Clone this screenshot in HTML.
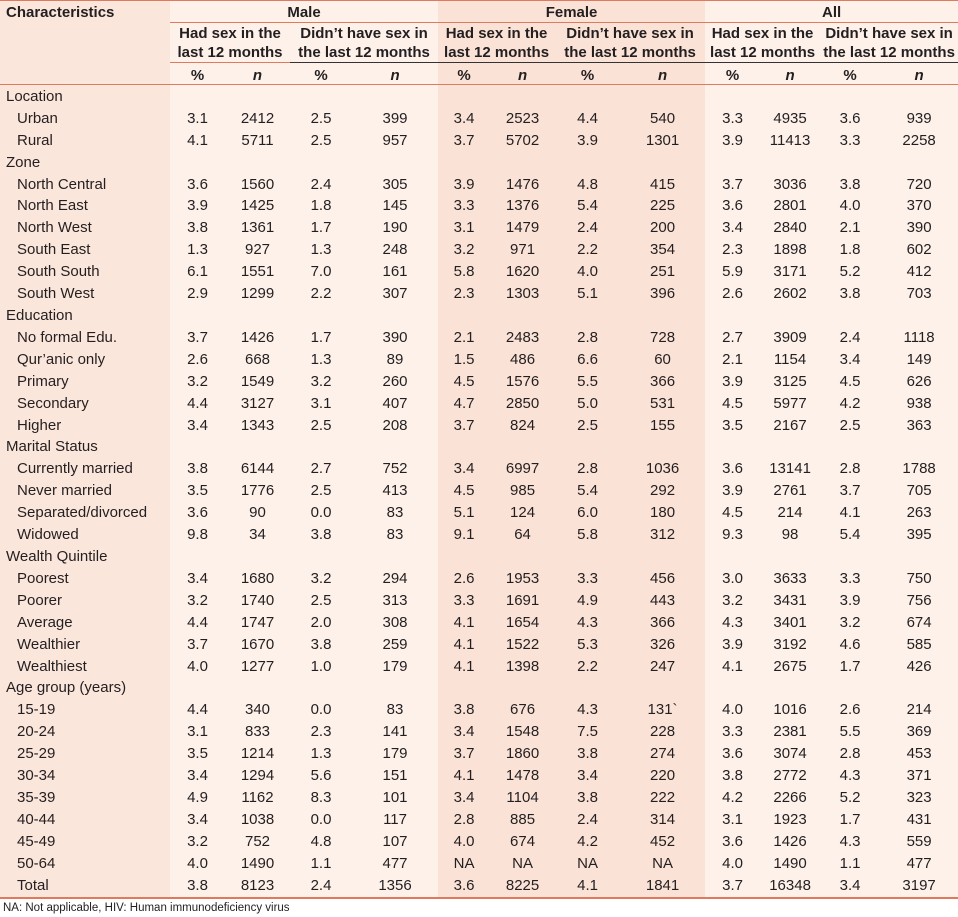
<!DOCTYPE html>
<html><head><meta charset="utf-8"><style>
html,body{margin:0;padding:0;background:#fff;}
body{width:958px;height:917px;position:relative;overflow:hidden;font-family:"Liberation Sans",sans-serif;color:#231f20;}
.bg{position:absolute;top:0;height:897px;}
table{position:absolute;left:0;top:2px;border-collapse:collapse;width:958px;table-layout:fixed;font-size:15px;}
td{padding:0;height:21.92px;text-align:center;white-space:nowrap;line-height:16px;}
td.c{text-align:left;padding-left:6px;}
td.s{text-align:left;padding-left:17px;}
th{padding:0;font-weight:bold;font-size:15px;line-height:19px;white-space:nowrap;}
.line{position:absolute;height:1px;}
.foot{position:absolute;left:3px;top:902px;font-size:11.5px;}
</style></head><body>
<div class="bg" style="left:0;width:170px;background:#fbe6dc"></div>
<div class="bg" style="left:170px;width:268px;background:#fdf1ea"></div>
<div class="bg" style="left:438px;width:267px;background:#fbe2d6"></div>
<div class="bg" style="left:705px;width:253px;background:#fdf1ea"></div>
<div class="line" style="left:0;top:0;width:958px;background:#e07a5f"></div>
<div class="line" style="left:170px;top:22px;width:788px;background:#e07a5f"></div>
<div class="line" style="left:170px;top:62px;width:120px;background:#e07a5f"></div>
<div class="line" style="left:290px;top:62px;width:668px;background:#333"></div>
<div class="line" style="left:0;top:84px;width:958px;background:#e07a5f"></div>
<div class="line" style="left:0;top:897px;width:958px;height:2px;background:#e07a5f"></div>
<table>
<colgroup><col style="width:170px"><col style="width:55px"><col style="width:65px"><col style="width:62px"><col style="width:86px"><col style="width:52px"><col style="width:65px"><col style="width:65px"><col style="width:85px"><col style="width:55px"><col style="width:60px"><col style="width:60px"><col style="width:78px"></colgroup>
<tr style="height:20px"><th style="text-align:left;padding-left:6px;vertical-align:top;padding-top:1px">Characteristics</th><th colspan="4">Male</th><th colspan="4">Female</th><th colspan="4">All</th></tr>
<tr style="height:42px"><th></th><th colspan="2">Had sex in the<br>last 12 months</th><th colspan="2">Didn’t have sex in<br>the last 12 months</th><th colspan="2">Had sex in the<br>last 12 months</th><th colspan="2">Didn’t have sex in<br>the last 12 months</th><th colspan="2">Had sex in the<br>last 12 months</th><th colspan="2">Didn’t have sex in<br>the last 12 months</th></tr>
<tr style="height:22px"><th></th><th>%</th><th><i>n</i></th><th>%</th><th><i>n</i></th><th>%</th><th><i>n</i></th><th>%</th><th><i>n</i></th><th>%</th><th><i>n</i></th><th>%</th><th><i>n</i></th></tr>
<tr><td class="c">Location</td><td colspan="12"></td></tr>
<tr><td class="s">Urban</td><td>3.1</td><td>2412</td><td>2.5</td><td>399</td><td>3.4</td><td>2523</td><td>4.4</td><td>540</td><td>3.3</td><td>4935</td><td>3.6</td><td>939</td></tr>
<tr><td class="s">Rural</td><td>4.1</td><td>5711</td><td>2.5</td><td>957</td><td>3.7</td><td>5702</td><td>3.9</td><td>1301</td><td>3.9</td><td>11413</td><td>3.3</td><td>2258</td></tr>
<tr><td class="c">Zone</td><td colspan="12"></td></tr>
<tr><td class="s">North Central</td><td>3.6</td><td>1560</td><td>2.4</td><td>305</td><td>3.9</td><td>1476</td><td>4.8</td><td>415</td><td>3.7</td><td>3036</td><td>3.8</td><td>720</td></tr>
<tr><td class="s">North East</td><td>3.9</td><td>1425</td><td>1.8</td><td>145</td><td>3.3</td><td>1376</td><td>5.4</td><td>225</td><td>3.6</td><td>2801</td><td>4.0</td><td>370</td></tr>
<tr><td class="s">North West</td><td>3.8</td><td>1361</td><td>1.7</td><td>190</td><td>3.1</td><td>1479</td><td>2.4</td><td>200</td><td>3.4</td><td>2840</td><td>2.1</td><td>390</td></tr>
<tr><td class="s">South East</td><td>1.3</td><td>927</td><td>1.3</td><td>248</td><td>3.2</td><td>971</td><td>2.2</td><td>354</td><td>2.3</td><td>1898</td><td>1.8</td><td>602</td></tr>
<tr><td class="s">South South</td><td>6.1</td><td>1551</td><td>7.0</td><td>161</td><td>5.8</td><td>1620</td><td>4.0</td><td>251</td><td>5.9</td><td>3171</td><td>5.2</td><td>412</td></tr>
<tr><td class="s">South West</td><td>2.9</td><td>1299</td><td>2.2</td><td>307</td><td>2.3</td><td>1303</td><td>5.1</td><td>396</td><td>2.6</td><td>2602</td><td>3.8</td><td>703</td></tr>
<tr><td class="c">Education</td><td colspan="12"></td></tr>
<tr><td class="s">No formal Edu.</td><td>3.7</td><td>1426</td><td>1.7</td><td>390</td><td>2.1</td><td>2483</td><td>2.8</td><td>728</td><td>2.7</td><td>3909</td><td>2.4</td><td>1118</td></tr>
<tr><td class="s">Qur’anic only</td><td>2.6</td><td>668</td><td>1.3</td><td>89</td><td>1.5</td><td>486</td><td>6.6</td><td>60</td><td>2.1</td><td>1154</td><td>3.4</td><td>149</td></tr>
<tr><td class="s">Primary</td><td>3.2</td><td>1549</td><td>3.2</td><td>260</td><td>4.5</td><td>1576</td><td>5.5</td><td>366</td><td>3.9</td><td>3125</td><td>4.5</td><td>626</td></tr>
<tr><td class="s">Secondary</td><td>4.4</td><td>3127</td><td>3.1</td><td>407</td><td>4.7</td><td>2850</td><td>5.0</td><td>531</td><td>4.5</td><td>5977</td><td>4.2</td><td>938</td></tr>
<tr><td class="s">Higher</td><td>3.4</td><td>1343</td><td>2.5</td><td>208</td><td>3.7</td><td>824</td><td>2.5</td><td>155</td><td>3.5</td><td>2167</td><td>2.5</td><td>363</td></tr>
<tr><td class="c">Marital Status</td><td colspan="12"></td></tr>
<tr><td class="s">Currently married</td><td>3.8</td><td>6144</td><td>2.7</td><td>752</td><td>3.4</td><td>6997</td><td>2.8</td><td>1036</td><td>3.6</td><td>13141</td><td>2.8</td><td>1788</td></tr>
<tr><td class="s">Never married</td><td>3.5</td><td>1776</td><td>2.5</td><td>413</td><td>4.5</td><td>985</td><td>5.4</td><td>292</td><td>3.9</td><td>2761</td><td>3.7</td><td>705</td></tr>
<tr><td class="s">Separated/divorced</td><td>3.6</td><td>90</td><td>0.0</td><td>83</td><td>5.1</td><td>124</td><td>6.0</td><td>180</td><td>4.5</td><td>214</td><td>4.1</td><td>263</td></tr>
<tr><td class="s">Widowed</td><td>9.8</td><td>34</td><td>3.8</td><td>83</td><td>9.1</td><td>64</td><td>5.8</td><td>312</td><td>9.3</td><td>98</td><td>5.4</td><td>395</td></tr>
<tr><td class="c">Wealth Quintile</td><td colspan="12"></td></tr>
<tr><td class="s">Poorest</td><td>3.4</td><td>1680</td><td>3.2</td><td>294</td><td>2.6</td><td>1953</td><td>3.3</td><td>456</td><td>3.0</td><td>3633</td><td>3.3</td><td>750</td></tr>
<tr><td class="s">Poorer</td><td>3.2</td><td>1740</td><td>2.5</td><td>313</td><td>3.3</td><td>1691</td><td>4.9</td><td>443</td><td>3.2</td><td>3431</td><td>3.9</td><td>756</td></tr>
<tr><td class="s">Average</td><td>4.4</td><td>1747</td><td>2.0</td><td>308</td><td>4.1</td><td>1654</td><td>4.3</td><td>366</td><td>4.3</td><td>3401</td><td>3.2</td><td>674</td></tr>
<tr><td class="s">Wealthier</td><td>3.7</td><td>1670</td><td>3.8</td><td>259</td><td>4.1</td><td>1522</td><td>5.3</td><td>326</td><td>3.9</td><td>3192</td><td>4.6</td><td>585</td></tr>
<tr><td class="s">Wealthiest</td><td>4.0</td><td>1277</td><td>1.0</td><td>179</td><td>4.1</td><td>1398</td><td>2.2</td><td>247</td><td>4.1</td><td>2675</td><td>1.7</td><td>426</td></tr>
<tr><td class="c">Age group (years)</td><td colspan="12"></td></tr>
<tr><td class="s">15-19</td><td>4.4</td><td>340</td><td>0.0</td><td>83</td><td>3.8</td><td>676</td><td>4.3</td><td>131`</td><td>4.0</td><td>1016</td><td>2.6</td><td>214</td></tr>
<tr><td class="s">20-24</td><td>3.1</td><td>833</td><td>2.3</td><td>141</td><td>3.4</td><td>1548</td><td>7.5</td><td>228</td><td>3.3</td><td>2381</td><td>5.5</td><td>369</td></tr>
<tr><td class="s">25-29</td><td>3.5</td><td>1214</td><td>1.3</td><td>179</td><td>3.7</td><td>1860</td><td>3.8</td><td>274</td><td>3.6</td><td>3074</td><td>2.8</td><td>453</td></tr>
<tr><td class="s">30-34</td><td>3.4</td><td>1294</td><td>5.6</td><td>151</td><td>4.1</td><td>1478</td><td>3.4</td><td>220</td><td>3.8</td><td>2772</td><td>4.3</td><td>371</td></tr>
<tr><td class="s">35-39</td><td>4.9</td><td>1162</td><td>8.3</td><td>101</td><td>3.4</td><td>1104</td><td>3.8</td><td>222</td><td>4.2</td><td>2266</td><td>5.2</td><td>323</td></tr>
<tr><td class="s">40-44</td><td>3.4</td><td>1038</td><td>0.0</td><td>117</td><td>2.8</td><td>885</td><td>2.4</td><td>314</td><td>3.1</td><td>1923</td><td>1.7</td><td>431</td></tr>
<tr><td class="s">45-49</td><td>3.2</td><td>752</td><td>4.8</td><td>107</td><td>4.0</td><td>674</td><td>4.2</td><td>452</td><td>3.6</td><td>1426</td><td>4.3</td><td>559</td></tr>
<tr><td class="s">50-64</td><td>4.0</td><td>1490</td><td>1.1</td><td>477</td><td>NA</td><td>NA</td><td>NA</td><td>NA</td><td>4.0</td><td>1490</td><td>1.1</td><td>477</td></tr>
<tr><td class="s">Total</td><td>3.8</td><td>8123</td><td>2.4</td><td>1356</td><td>3.6</td><td>8225</td><td>4.1</td><td>1841</td><td>3.7</td><td>16348</td><td>3.4</td><td>3197</td></tr>
</table>
<div class="foot">NA: Not applicable, HIV: Human immunodeficiency virus</div>
</body></html>
